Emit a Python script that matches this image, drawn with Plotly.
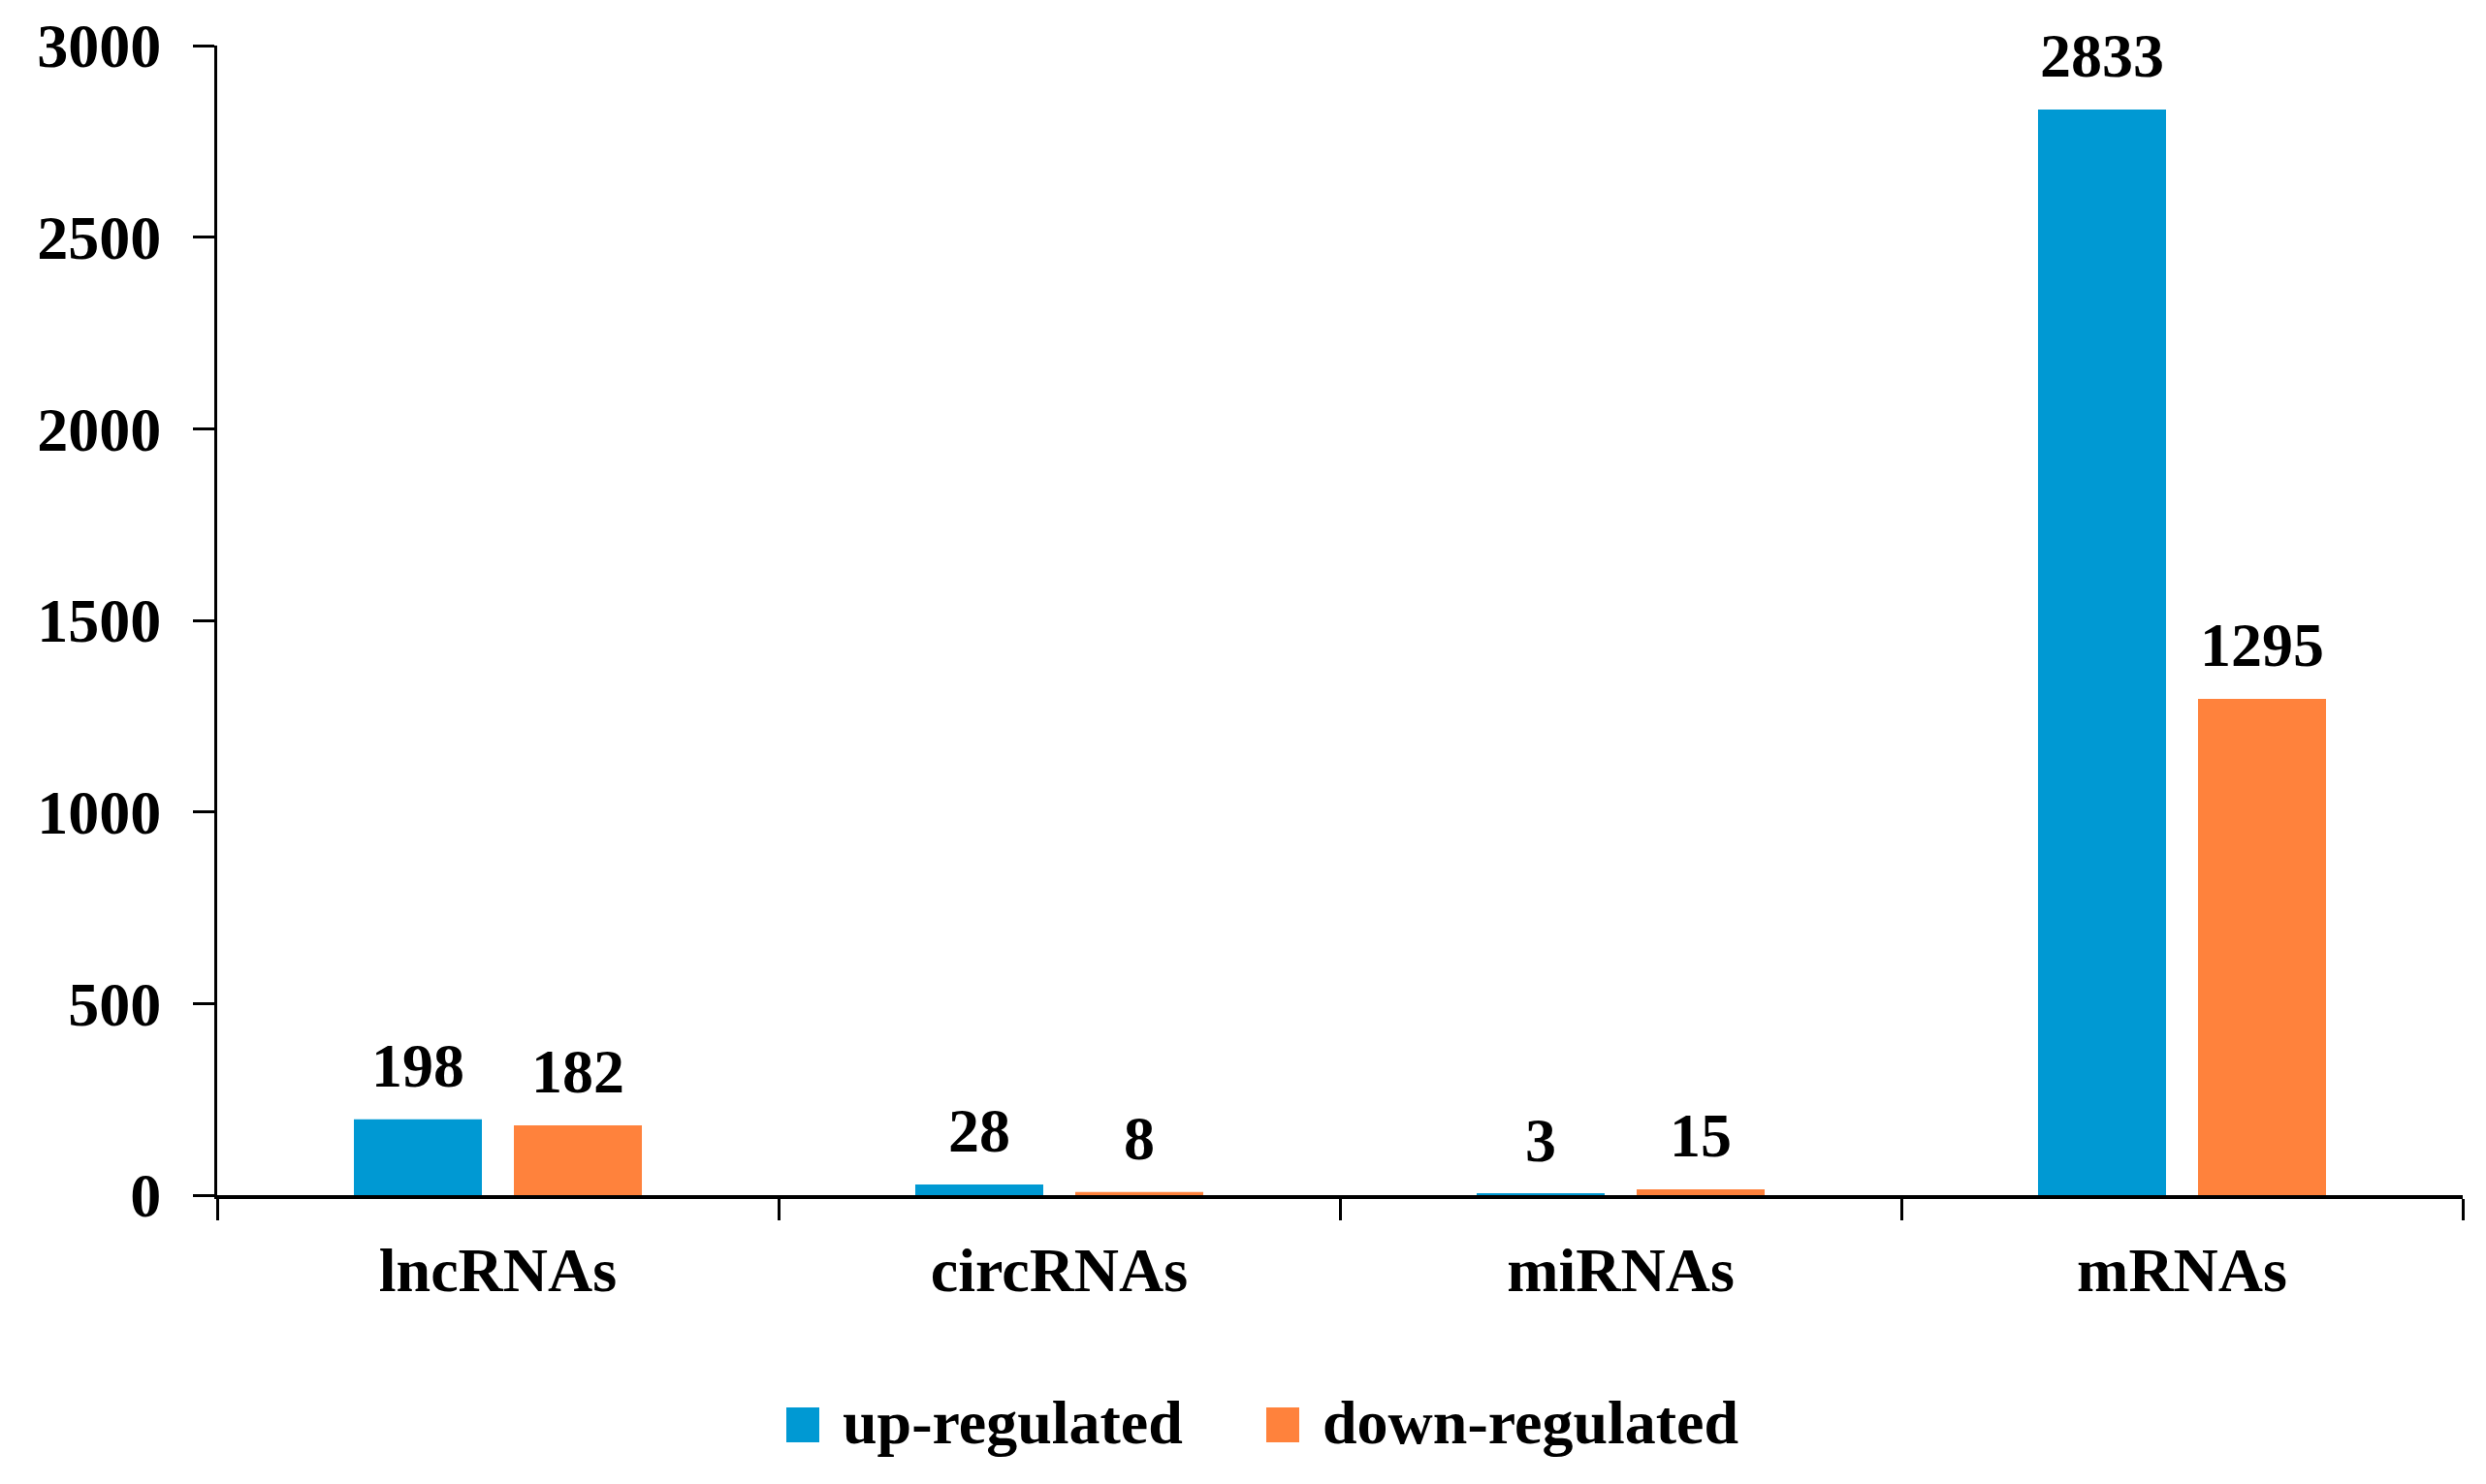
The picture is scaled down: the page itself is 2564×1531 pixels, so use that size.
import plotly.graph_objects as go

categories = ["lncRNAs", "circRNAs", "miRNAs", "mRNAs"]
up_regulated = [198, 28, 3, 2833]
down_regulated = [182, 8, 15, 1295]
series_names = ["up-regulated", "down-regulated"]
y_ticks = [0, 500, 1000, 1500, 2000, 2500, 3000]

BLUE = "#0099D3"
ORANGE = "#FF823C"
FONT = "Liberation Serif"

# page body has an 8px margin, so the figure is a bit smaller than the window
OFF = 8
W, H = 2548, 1515
L, R, T, B = 216, 16, 39, 290


def px_to_paper(x, y):
    # position on the page (px) -> paper coordinates of the plot area
    px = (x - OFF - L) / (W - L - R)
    py = (H - B - (y - OFF)) / (H - T - B)
    return px, py


fig = go.Figure()
for name, vals, col in [(series_names[0], up_regulated, BLUE),
                        (series_names[1], down_regulated, ORANGE)]:
    fig.add_trace(go.Bar(x=categories, y=vals, name=name, marker_color=col,
                         marker_line_width=0, showlegend=False))

# value labels above each bar
slot = 0.57 * (W - L - R) / len(categories) / 2
for vals, shift in [(up_regulated, -slot / 2), (down_regulated, slot / 2)]:
    for cat, v in zip(categories, vals):
        fig.add_annotation(x=cat, y=v, text=str(v), showarrow=False,
                           xshift=shift, yshift=18, yanchor="bottom",
                           font=dict(family=FONT, size=64, color="black", weight="bold"))

# legend drawn by hand so the swatches can be big
legend_items = [(series_names[0], BLUE, 811), (series_names[1], ORANGE, 1306)]
for name, col, x0 in legend_items:
    px0, py0 = px_to_paper(x0, 1452)
    px1, py1 = px_to_paper(x0 + 34, 1488)
    fig.add_shape(type="rect", xref="paper", yref="paper", x0=px0, x1=px1,
                  y0=py1, y1=py0, fillcolor=col, line_width=0)
    tx, ty = px_to_paper(x0 + 56, 1467)
    fig.add_annotation(xref="paper", yref="paper", x=tx, y=ty, text=name,
                       showarrow=False, xanchor="left", yanchor="middle",
                       font=dict(family=FONT, size=64, color="black", weight="bold"))

fig.update_layout(
    width=W, height=H,
    margin=dict(l=L, r=R, t=T, b=B),
    paper_bgcolor="white", plot_bgcolor="white",
    barmode="group", bargap=0.43, bargroupgap=0.2,
    font=dict(family=FONT, size=64, color="black", weight="bold"),
)
fig.update_xaxes(showline=True, linecolor="black", linewidth=3.5,
                 ticks="outside", tickson="boundaries", ticklen=22, tickwidth=3,
                 tickcolor="black", ticklabelstandoff=18, showgrid=False,
                 automargin=False,
                 tickfont=dict(family=FONT, size=64, weight="bold"))
fig.update_yaxes(range=[0, 3000], tickvals=y_ticks, showline=True,
                 linecolor="black", linewidth=3, ticks="outside", ticklen=22,
                 tickwidth=3, tickcolor="black", ticklabelstandoff=20,
                 showgrid=False, zeroline=False, automargin=False,
                 tickfont=dict(family=FONT, size=64, weight="bold"))

fig.write_html("out.html")
